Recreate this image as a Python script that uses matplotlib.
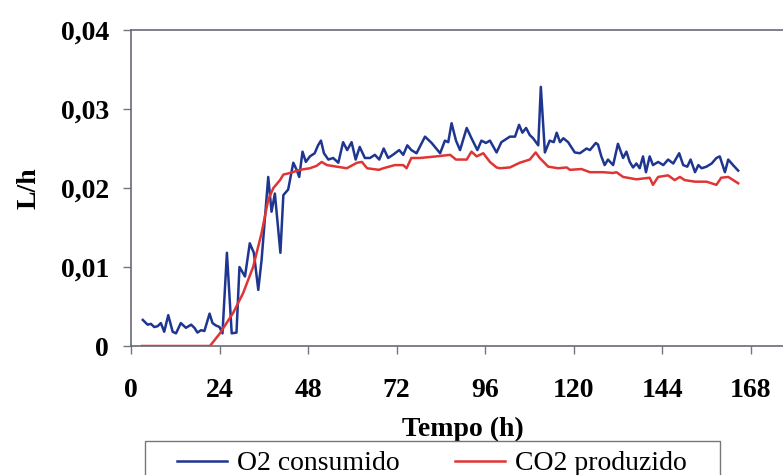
import matplotlib.pyplot as plt
from matplotlib.patches import Rectangle

# O2 consumido (L/h)
t_o2 = [3.2, 4.5, 5.4, 6.3, 7.2, 8.1, 9.0, 10.1, 11.3, 12.2, 13.5, 14.9, 16.3, 17.2, 18.0,
        19.0, 19.9, 21.3, 22.1, 23.0, 24.0, 24.8, 26.0, 27.3, 28.6, 29.4, 30.9, 32.2, 33.3,
        34.5, 35.4, 37.2, 38.1, 39.0, 40.5, 41.3, 42.6, 44.0, 44.9, 45.6, 46.5, 47.4, 48.5,
        49.8, 50.7, 51.5, 52.3, 53.5, 54.8, 56.2, 57.5, 58.6, 59.8, 60.9, 62.0, 63.4, 64.8,
        66.1, 67.3, 68.5, 69.7, 71.0, 72.7, 73.8, 74.9, 76.0, 77.4, 79.7, 81.5, 83.8, 85.1,
        86.0, 86.9, 88.1, 89.2, 91.0, 92.3, 93.9, 95.0, 96.2, 97.3, 99.1, 100.4, 102.7,
        104.1, 105.2, 106.1, 107.1, 108.1, 109.0, 110.4, 111.1, 112.2, 113.5, 114.6, 115.4,
        116.3, 117.2, 118.5, 120.3, 121.7, 123.5, 124.4, 126.0, 126.6, 127.5, 128.4, 129.3,
        130.7, 132.0, 133.4, 134.3, 135.2, 136.1, 137.0, 137.9, 138.8, 139.6, 140.6, 141.5,
        142.9, 144.3, 145.6, 147.0, 148.6, 149.7, 150.8, 151.7, 152.9, 153.8, 154.7, 156.0,
        157.4, 158.7, 159.6, 161.0, 161.9, 163.2, 164.6]
o2 = [0.0033, 0.0027, 0.0028, 0.0024, 0.0025, 0.0029, 0.0018, 0.0039, 0.0018, 0.0016, 0.0029,
      0.0023, 0.0027, 0.0023, 0.0017, 0.0020, 0.0019, 0.0041, 0.0029, 0.0026, 0.0024, 0.0016,
      0.0118, 0.0016, 0.0017, 0.0100, 0.0088, 0.0130, 0.0118, 0.0071, 0.0109, 0.0214, 0.0170,
      0.0193, 0.0118, 0.0191, 0.0198, 0.0232, 0.0223, 0.0214, 0.0246, 0.0233, 0.0240, 0.0244,
      0.0254, 0.0260, 0.0244, 0.0236, 0.0238, 0.0232, 0.0258, 0.0248, 0.0258, 0.0236, 0.0252,
      0.0238, 0.0238, 0.0242, 0.0236, 0.0250, 0.0238, 0.0242, 0.0248, 0.0242, 0.0254, 0.0248,
      0.0244, 0.0265, 0.0257, 0.0244, 0.0260, 0.0258, 0.0282, 0.0260, 0.0248, 0.0276, 0.0263,
      0.0248, 0.0260, 0.0257, 0.0260, 0.0245, 0.0258, 0.0265, 0.0265, 0.0280, 0.0270, 0.0276,
      0.0267, 0.0263, 0.0254, 0.0328, 0.0245, 0.0260, 0.0258, 0.0270, 0.0258, 0.0263, 0.0258,
      0.0245, 0.0244, 0.0250, 0.0248, 0.0257, 0.0255, 0.0240, 0.0229, 0.0236, 0.0229, 0.0256,
      0.0238, 0.0246, 0.0233, 0.0226, 0.0231, 0.0225, 0.0240, 0.0220, 0.0240, 0.0229, 0.0233,
      0.0229, 0.0236, 0.0231, 0.0244, 0.0229, 0.0227, 0.0236, 0.0220, 0.0229, 0.0225, 0.0227,
      0.0231, 0.0238, 0.0240, 0.0220, 0.0236, 0.0229, 0.0222]

# CO2 produzido (L/h)
t_co2 = [3.0, 21.4, 24.1, 27.7, 30.4, 33.1, 35.4, 37.2, 38.6, 40.4, 41.3, 43.1, 45.8, 48.5,
         50.3, 51.7, 53.1, 55.8, 58.5, 61.3, 62.6, 64.0, 67.2, 68.4, 71.5, 73.8, 74.7, 76.0,
         78.3, 82.8, 86.5, 88.1, 91.0, 92.3, 93.7, 95.5, 97.3, 99.1, 100.0, 102.7, 105.4,
         108.1, 109.7, 110.8, 113.1, 115.8, 118.1, 119.0, 122.1, 124.4, 128.0, 130.7, 131.6,
         133.4, 137.0, 140.6, 141.5, 142.9, 145.6, 147.4, 148.8, 150.1, 152.9, 156.0, 158.7,
         160.0, 161.9, 164.6]
co2 = [0.0, 0.0, 0.0016, 0.0042, 0.0067, 0.0100, 0.0143, 0.0185, 0.0200, 0.0210, 0.0217,
       0.0219, 0.0223, 0.0225, 0.0228, 0.0233, 0.0229, 0.0227, 0.0225, 0.0232, 0.0233, 0.0225,
       0.0223, 0.0225, 0.0229, 0.0229, 0.0225, 0.0238, 0.0238, 0.0240, 0.0242, 0.0236, 0.0236,
       0.0246, 0.0240, 0.0244, 0.0233, 0.0226, 0.0225, 0.0226, 0.0232, 0.0236, 0.0245, 0.0238,
       0.0227, 0.0225, 0.0226, 0.0223, 0.0224, 0.0220, 0.0220, 0.0219, 0.0220, 0.0214, 0.0211,
       0.0213, 0.0204, 0.0214, 0.0216, 0.0210, 0.0214, 0.0210, 0.0208, 0.0208, 0.0204, 0.0213,
       0.0214, 0.0206]

xticks = [0, 24, 48, 72, 96, 120, 144, 168]
yticks = [0, 0.01, 0.02, 0.03, 0.04]
ylabels = ['0', '0,01', '0,02', '0,03', '0,04']

plt.rcParams['font.family'] = ['Liberation Serif', 'DejaVu Serif']

fig = plt.figure(figsize=(7.83, 4.75), dpi=100)
ax = fig.add_axes([131 / 783, 1 - 346 / 475, 664 / 783, 316 / 475])

ax.plot(t_o2, o2, color='#1f3690', lw=1.8, label='O2 consumido')
ax.plot(t_co2, co2, color='#e03535', lw=1.8, label='CO2 produzido')

ax.set_xlim(0, 180)
ax.set_ylim(0, 0.04)
ax.set_xticks(xticks)
ax.set_yticks(yticks)
ax.set_yticklabels(ylabels)
ax.tick_params(axis='both', direction='out', length=6, width=1, colors='#777777',
               labelcolor='black', labelsize=20)
for lab in ax.get_xticklabels() + ax.get_yticklabels():
    lab.set_fontweight('bold')
ax.tick_params(axis='x', pad=17)
ax.tick_params(axis='y', pad=10)

for s in ['top', 'left', 'bottom', 'right']:
    ax.spines[s].set_color('#6a6a78')
    ax.spines[s].set_linewidth(1.2)

ax.set_xlabel('Tempo (h)', fontsize=20, fontweight='bold', labelpad=10)
ax.set_ylabel('L/h', fontsize=20, fontweight='bold', labelpad=14)

# caixa da legenda (cortada na borda inferior, como no original)
fig.patches.append(Rectangle((145 / 783, -0.05), 575 / 783, 0.05 + 1 - 441 / 475,
                             transform=fig.transFigure, fill=False,
                             edgecolor='#777777', lw=1.0))
leg = fig.legend(loc='upper center', bbox_to_anchor=(432 / 783, 1 - 444 / 475), ncol=2,
                 fontsize=20, frameon=False,
                 handlelength=1.8, handletextpad=0.35, columnspacing=2.0,
                 borderpad=0.25, borderaxespad=0)

fig.savefig('out.png', dpi=100)
